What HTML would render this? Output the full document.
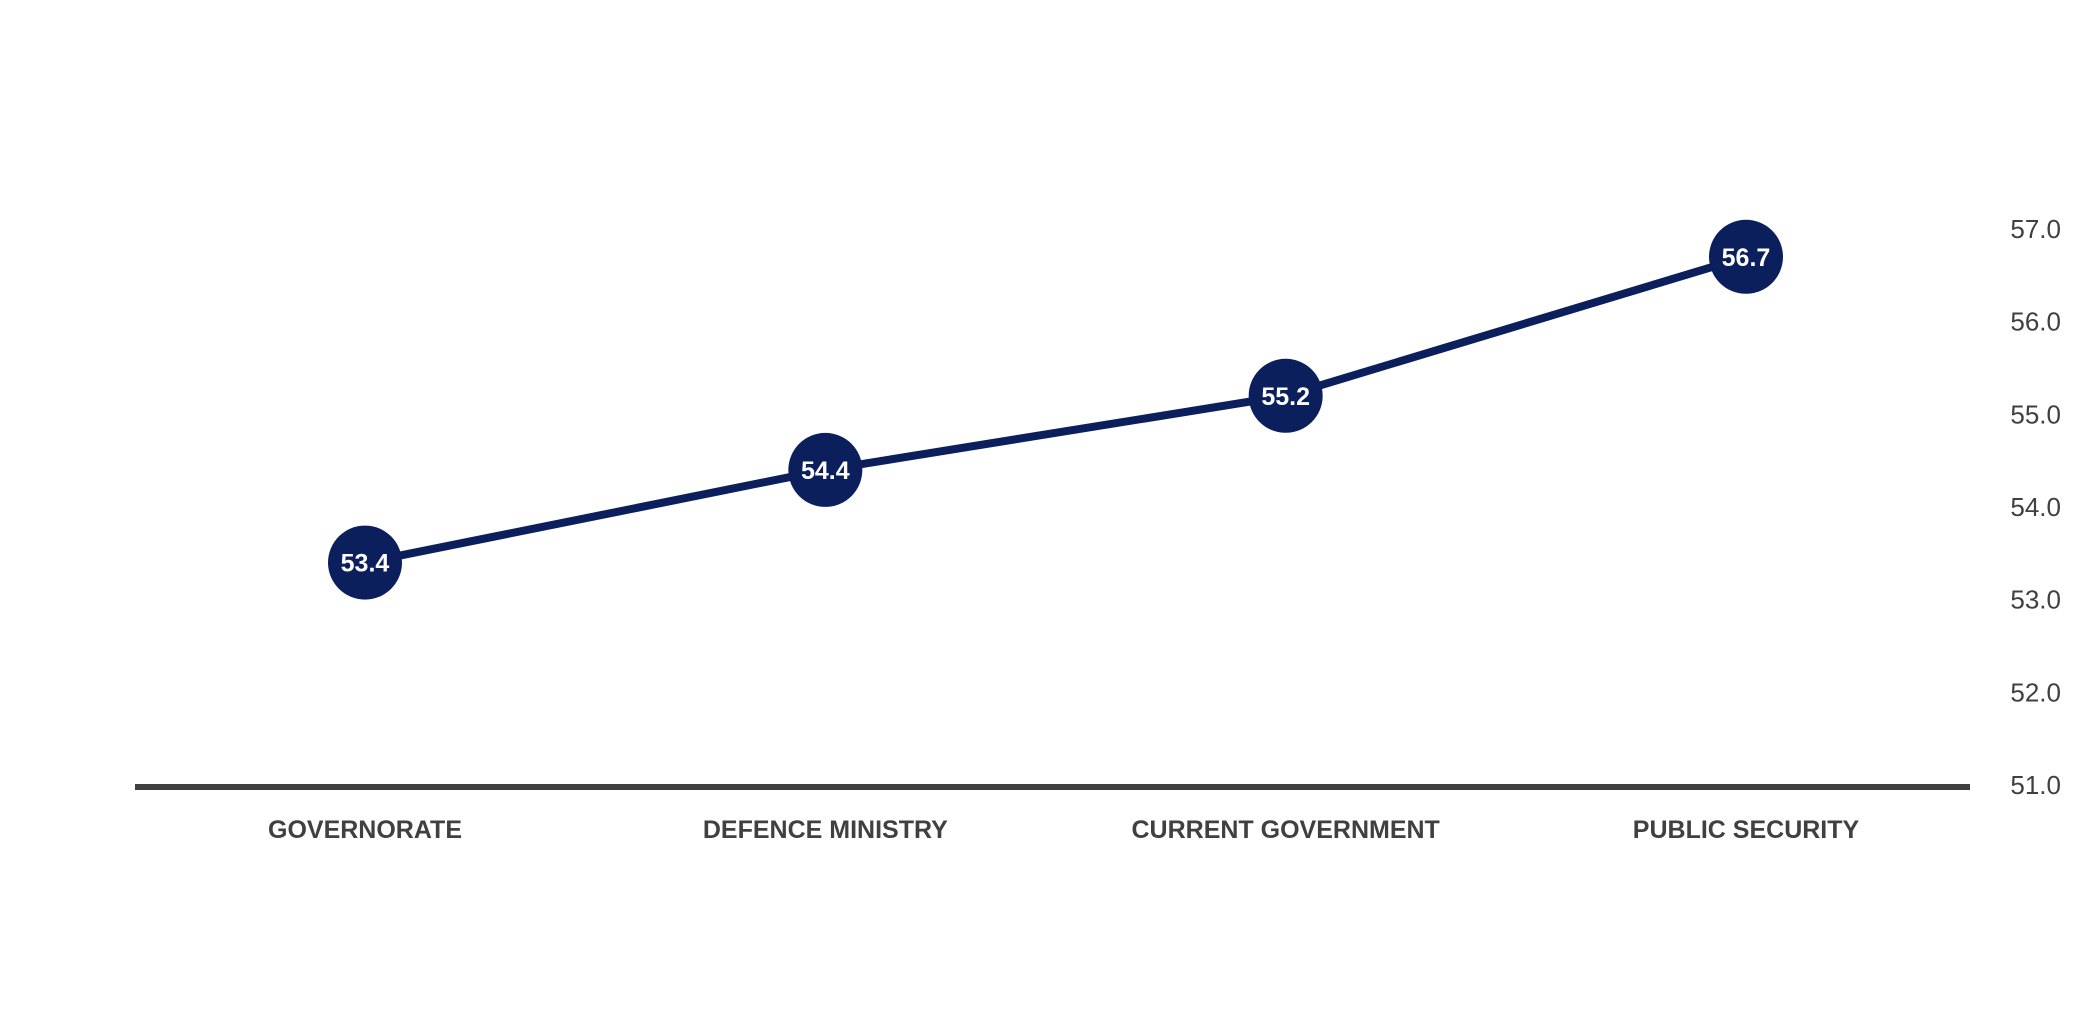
<!DOCTYPE html>
<html><head><meta charset="utf-8"><style>
html,body{margin:0;padding:0;background:#fff;}
svg{display:block;font-family:"Liberation Sans",sans-serif;}
</style></head><body>
<svg id="chart" width="2076" height="1012" viewBox="0 0 2076 1012"></svg>
<script>
const categories=["GOVERNORATE","DEFENCE MINISTRY","CURRENT GOVERNMENT","PUBLIC SECURITY"];
const values=[53.4,54.4,55.2,56.7];
const valueLabels=["53.4","54.4","55.2","56.7"];
const ticks=[51,52,53,54,55,56,57];
const tickLabels=["51.0","52.0","53.0","54.0","55.0","56.0","57.0"];
const NS="http://www.w3.org/2000/svg";
const svg=document.getElementById('chart');
const yMin=51,yMax=57,yBot=785,yTop=229;
function y(v){return yBot-(v-yMin)/(yMax-yMin)*(yBot-yTop);}
const x0=365,x1=1746;
function x(i){return x0+i*(x1-x0)/(categories.length-1);}
function mk(tag,attrs){const e=document.createElementNS(NS,tag);for(const k in attrs)e.setAttribute(k,attrs[k]);svg.appendChild(e);return e;}
ticks.forEach((t,i)=>{const e=mk('text',{x:2061,y:y(t)+9,'text-anchor':'end','font-size':26,fill:'#404040'});e.textContent=tickLabels[i];

});
const ax=mk('line',{x1:135,x2:1970,y1:787,y2:787,stroke:'#404040','stroke-width':6});


categories.forEach((c,i)=>{const e=mk('text',{x:x(i),y:838,'text-anchor':'middle','font-size':25,'font-weight':'bold',fill:'#404040'});e.textContent=c;

});
const pl=mk('polyline',{points:values.map((v,i)=>x(i)+','+y(v)).join(' '),fill:'none',stroke:'#0b1f5c','stroke-width':8});


values.forEach((v,i)=>{const c=mk('circle',{cx:x(i),cy:y(v),r:37,fill:'#0b1f5c'});


const t=mk('text',{x:x(i),y:y(v)+9,'text-anchor':'middle','font-size':25,'font-weight':'bold',fill:'#fff'});t.textContent=valueLabels[i];

});
</script>
</body></html>
